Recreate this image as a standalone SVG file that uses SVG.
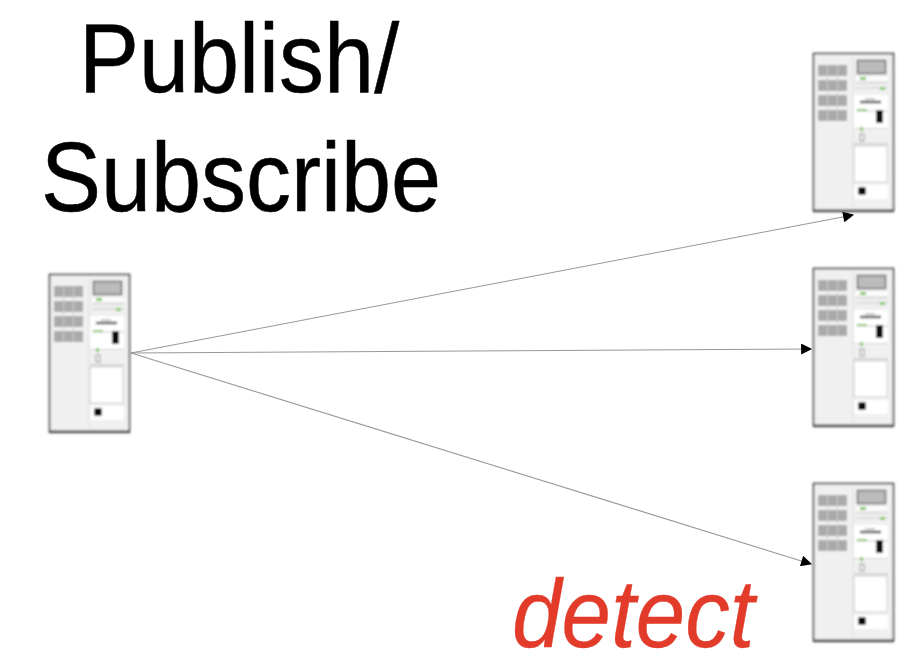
<svg xmlns="http://www.w3.org/2000/svg" width="905" height="656" viewBox="0 0 905 656">
<style>
text{font-family:"Liberation Sans",Arial,sans-serif;font-size:90px}
.t{fill:#000;stroke:#000;stroke-width:.5}
.d{fill:#e23b2c;stroke:#e23b2c;stroke-width:.3;font-style:italic;font-size:89px}
.c{fill:none;stroke:#999;stroke-width:1.100}
</style>
<defs>
<filter id="b" x="-10%" y="-10%" width="120%" height="120%"><feGaussianBlur stdDeviation="1"/></filter>
<filter id="s" x="-5%" y="-5%" width="110%" height="110%"><feGaussianBlur stdDeviation="0.6"/></filter>
<filter id="l" x="-5%" y="-20%" width="110%" height="140%"><feGaussianBlur stdDeviation="0.3"/></filter>
<marker id="a" viewBox="0 0 10 10" refX="9" refY="5" markerUnits="userSpaceOnUse" markerWidth="12" markerHeight="11" orient="auto"><path d="M0 0L10 5L0 10z" fill="#000"/></marker>
<g id="srv" filter="url(#b)">
<rect x="0.5" y="0.5" width="80" height="157" fill="#f0f0f0" stroke="#555" stroke-width="1.800"/>
<path d="M0 158H81" stroke="#555" stroke-width="2.400"/>
<g fill="#aaa"><rect x="5" y="12" width="29" height="11"/><rect x="5" y="27" width="29" height="11"/><rect x="5" y="42" width="29" height="11"/><rect x="5" y="57" width="29" height="11"/></g>
<g stroke="#ccc" stroke-width="1"><path d="M14.500 12V68M24.500 12V68" /></g>
<path d="M40 4V154" stroke="#ddd" stroke-width="1"/>
<rect x="44.500" y="7.500" width="28" height="13" fill="#bbb" stroke="#777" stroke-width="1.600"/>
<rect x="43" y="24" width="32" height="3" fill="#fff"/><rect x="47" y="24" width="6" height="3" fill="#8c6"/>
<rect x="43" y="29" width="32" height="2" fill="#ddd"/><rect x="43" y="34" width="32" height="2" fill="#ddd"/><rect x="67" y="34" width="5" height="3" fill="#8c6"/>
<rect x="41" y="42" width="34" height="36" fill="#fff"/>
<path d="M47 49H68" stroke="#555" stroke-width="2.500"/><path d="M52 46H62" stroke="#999" stroke-width="1"/>
<path d="M43 58H75" stroke="#ccc"/><path d="M44 57H54" stroke="#8c6" stroke-width="2"/>
<rect x="63" y="57" width="7" height="13" rx="1" fill="#111"/>
<path d="M41 76H75M41 91H75" stroke="#bbb" stroke-width="1.200"/>
<rect x="47" y="81" width="4" height="7" fill="none" stroke="#999"/><rect x="47" y="74" width="3" height="4" fill="#8c6"/>
<rect x="41" y="93" width="33" height="36" fill="#fff" stroke="#ccc"/>
<rect x="41" y="132" width="34" height="14" fill="#fff"/>
<rect x="45" y="134" width="8" height="8" rx="2" fill="#111"/>
</g>
</defs>
<g id="title" filter="url(#s)">
<text class="t" transform="translate(79 91.500) scale(1 1.090)">Publish/</text>
<text class="t" transform="translate(41 211) scale(1 1.090)">Subscribe</text>
<text class="d" transform="translate(512 646.500) scale(1 1.080)">detect</text>
</g>
<g id="connectors" filter="url(#l)">
<path class="c" d="M131 353L853 215" marker-end="url(#a)"/>
<path class="c" d="M131 353L811 349" marker-end="url(#a)"/>
<path class="c" d="M131 353L811 564" marker-end="url(#a)"/>
</g>
<g id="publisher"><use href="#srv" x="49" y="274"/></g>
<g id="subscriber1"><use href="#srv" x="813" y="53"/></g>
<g id="subscriber2"><use href="#srv" x="813" y="268"/></g>
<g id="subscriber3"><use href="#srv" x="813" y="483"/></g>
</svg>
